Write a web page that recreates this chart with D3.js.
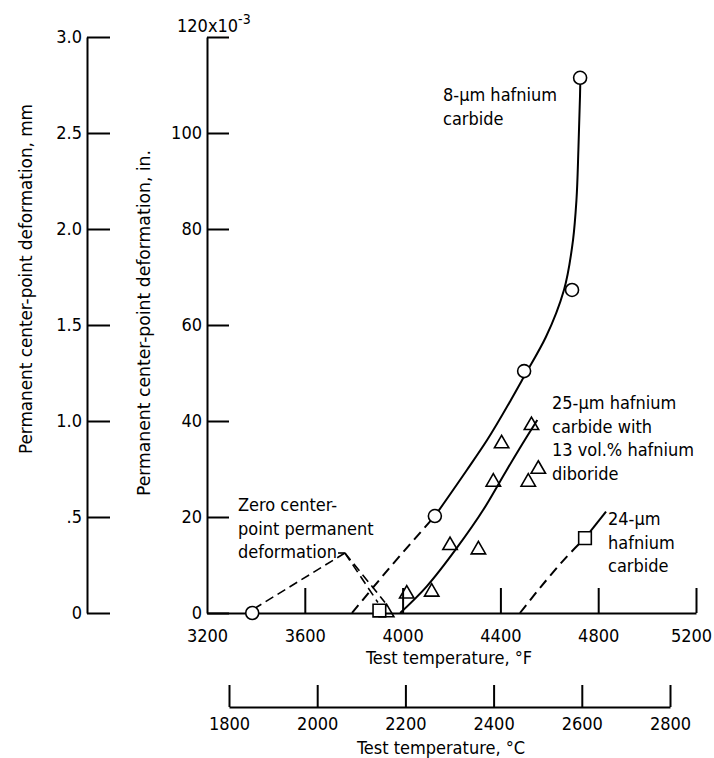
<!DOCTYPE html>
<html><head><meta charset="utf-8">
<script src="https://cdn.jsdelivr.net/npm/d3@7"></script>
<style>
body{margin:0;background:#fff;}
text{font-family:"Liberation Sans Narrow","DejaVu Sans Condensed","Roboto Condensed",sans-serif;font-stretch:condensed;fill:#000;}
</style></head>
<body><svg id="c" width="714" height="758"></svg>
<script>
// ---- data ----
const inTicks = [0, 20, 40, 60, 80, 100, 120];
const mmTicks = [0, 0.5, 1.0, 1.5, 2.0, 2.5, 3.0];
const mmTickLabels = ["0", ".5", "1.0", "1.5", "2.0", "2.5", "3.0"];
const fTicks = [3200, 3600, 4000, 4400, 4800, 5200];
const cTicks = [1800, 2000, 2200, 2400, 2600, 2800];

// 8-um hafnium carbide (circles)
const circleF  = [3385, 4132, 4497, 4693, 4726];
const circleIn = [0, 20.2, 50.4, 67.3, 111.5];
// 25-um HfC + 13 vol.% HfB2 (triangles)
const triF  = [3935, 4017, 4119, 4194, 4310, 4371, 4405, 4514, 4527, 4555];
const triIn = [0.5, 4.4, 4.8, 14.5, 13.6, 27.7, 35.7, 27.7, 39.5, 30.4];
// 24-um hafnium carbide (squares)
const sqF  = [3905, 4746];
const sqIn = [0.5, 15.6];

// faired curves
const c8DashF  = [3793, 3950, 4132];
const c8DashIn = [0, 9.6, 20.2];
const c8SolidF  = [4132, 4263, 4345, 4443, 4496, 4586, 4660, 4697, 4711, 4719, 4725.6, 4726.8];
const c8SolidIn = [20.2, 29.8, 36.0, 44.4, 49.2, 57.5, 67.3, 77.7, 86.0, 96.5, 107.7, 110.6];
const c25F  = [3990, 4098, 4221, 4330, 4426, 4508, 4551];
const c25In = [0, 5.5, 13.5, 21.5, 29.8, 36.7, 40.2];
const c24DashF  = [4480, 4589, 4671, 4746];
const c24DashIn = [0, 6.9, 11.7, 15.6];
const c24SolidF  = [4746, 4832];
const c24SolidIn = [15.6, 21.1];

// leader lines for "Zero center-point permanent deformation"
const leadPeak = [3764, 12.5];
const leadEnds = [[3396, 1.0], [3899, 2.2], [3928, 2.2]];
const leadTick = [[3736, 12.5], [3764, 12.5]];

const svg = d3.select("#c");
const x = d3.scaleLinear().domain([3200, 5200]).range([207, 696]);
const y = d3.scaleLinear().domain([0, 120]).range([613, 37]);
const yMM = d3.scaleLinear().domain([0, 3]).range([613, 37]);
const xC = d3.scaleLinear().domain([1800, 2800]).range([229, 670]);
const FS = 18;

function styleAxis(g){
  g.selectAll("path.domain").attr("stroke", "#000").attr("stroke-width", 2);
  g.selectAll(".tick line").attr("stroke", "#000").attr("stroke-width", 2);
  g.selectAll(".tick text").attr("font-size", FS).attr("fill", "#000")
    .style("font-family", '"Liberation Sans Narrow","DejaVu Sans Condensed",sans-serif');
}

// outer mm axis
const gMM = svg.append("g").attr("transform", "translate(87,0)")
  .call(d3.axisLeft(yMM).tickValues(mmTicks).tickSizeInner(-23).tickSizeOuter(0).tickPadding(5)
    .tickFormat((d, i) => mmTickLabels[i]));
styleAxis(gMM);

// inner in. axis
const gIn = svg.append("g").attr("transform", "translate(207,0)")
  .call(d3.axisLeft(y).tickValues(inTicks).tickSizeInner(-22).tickSizeOuter(0).tickPadding(5)
    .tickFormat(d => d === 120 ? "" : d));
styleAxis(gIn);
const lab120 = svg.append("text").attr("x", 177).attr("y", 32).attr("font-size", FS);
lab120.append("tspan").text("120x10");
lab120.append("tspan").attr("dy", -8).attr("font-size", 14).text("-3");

// F axis
const gF = svg.append("g").attr("transform", "translate(0,613)")
  .call(d3.axisBottom(x).tickValues(fTicks).tickSizeInner(-25).tickSizeOuter(0).tickPadding(16)
    .tickFormat(d3.format("d")));
styleAxis(gF);
gF.selectAll(".tick").filter(d => d === 3200).select("line").remove();
gF.selectAll(".tick").filter(d => d === 5200).select("text").attr("dx", -5);

// C axis
const gC = svg.append("g").attr("transform", "translate(0,707)")
  .call(d3.axisBottom(xC).tickValues(cTicks).tickSizeInner(-22).tickSizeOuter(0).tickPadding(10)
    .tickFormat(d3.format("d")));
styleAxis(gC);

// axis titles
svg.append("text").attr("x", 449).attr("y", 664).attr("text-anchor", "middle").attr("font-size", FS)
  .text("Test temperature, °F");
svg.append("text").attr("x", 441).attr("y", 754).attr("text-anchor", "middle").attr("font-size", FS)
  .text("Test temperature, °C");
svg.append("text").attr("transform", "translate(32,279) rotate(-90)").attr("text-anchor", "middle")
  .attr("font-size", FS).attr("textLength", 350).attr("lengthAdjust", "spacingAndGlyphs")
  .text("Permanent center-point deformation, mm");
svg.append("text").attr("transform", "translate(150,323) rotate(-90)").attr("text-anchor", "middle")
  .attr("font-size", FS).attr("textLength", 346).attr("lengthAdjust", "spacingAndGlyphs")
  .text("Permanent center-point deformation, in.");

// curves
const zip = (a, b) => a.map((v, i) => [v, b[i]]);
const lineY = d3.line().x(d => x(d[0])).y(d => y(d[1])).curve(d3.curveMonotoneY);
const lineX = d3.line().x(d => x(d[0])).y(d => y(d[1])).curve(d3.curveMonotoneX);
function drawCurve(F, I, dashed, gen){
  svg.append("path").datum(zip(F, I)).attr("d", gen).attr("fill", "none")
    .attr("stroke", "#000").attr("stroke-width", 2)
    .attr("stroke-dasharray", dashed ? "10,6" : null);
}
drawCurve(c8DashF, c8DashIn, true, lineX);
drawCurve(c8SolidF, c8SolidIn, false, lineY);
drawCurve(c25F, c25In, false, lineX);
drawCurve(c24DashF, c24DashIn, true, lineX);
drawCurve(c24SolidF, c24SolidIn, false, lineX);

// leader lines
const straight = d3.line().x(d => x(d[0])).y(d => y(d[1]));
leadEnds.forEach(e => {
  svg.append("path").datum([leadPeak, e]).attr("d", straight).attr("fill", "none")
    .attr("stroke", "#000").attr("stroke-width", 1.6).attr("stroke-dasharray", "9,5");
});
svg.append("path").datum(leadTick).attr("d", straight).attr("stroke", "#000").attr("stroke-width", 1.6);

// markers
svg.append("g").selectAll("circle").data(zip(circleF, circleIn)).join("circle")
  .attr("cx", d => x(d[0])).attr("cy", d => y(d[1])).attr("r", 6.5)
  .attr("fill", "#fff").attr("stroke", "#000").attr("stroke-width", 1.6);
const tri = d3.symbol(d3.symbolTriangle, 90);
svg.append("g").selectAll("path").data(zip(triF, triIn)).join("path")
  .attr("transform", d => `translate(${x(d[0])},${y(d[1]) + 2})`).attr("d", tri)
  .attr("fill", "none").attr("stroke", "#000").attr("stroke-width", 1.6);
const sq = d3.symbol(d3.symbolSquare, 160);
svg.append("g").selectAll("path").data(zip(sqF, sqIn)).join("path")
  .attr("transform", d => `translate(${x(d[0])},${y(d[1])})`).attr("d", sq)
  .attr("fill", "#fff").attr("stroke", "#000").attr("stroke-width", 1.6);

// annotations
function label(x0, y0, lines){
  const t = svg.append("text").attr("font-size", FS);
  lines.forEach((s, i) => t.append("tspan").attr("x", x0).attr("y", y0 + i * 23.5).text(s));
}
label(443, 101, ["8-µm hafnium", "carbide"]);
label(552, 409, ["25-µm hafnium", "carbide with", "13 vol.% hafnium", "diboride"]);
label(608, 525, ["24-µm", "hafnium", "carbide"]);
label(238, 511, ["Zero center-", "point permanent", "deformation"]);
</script></body></html>
